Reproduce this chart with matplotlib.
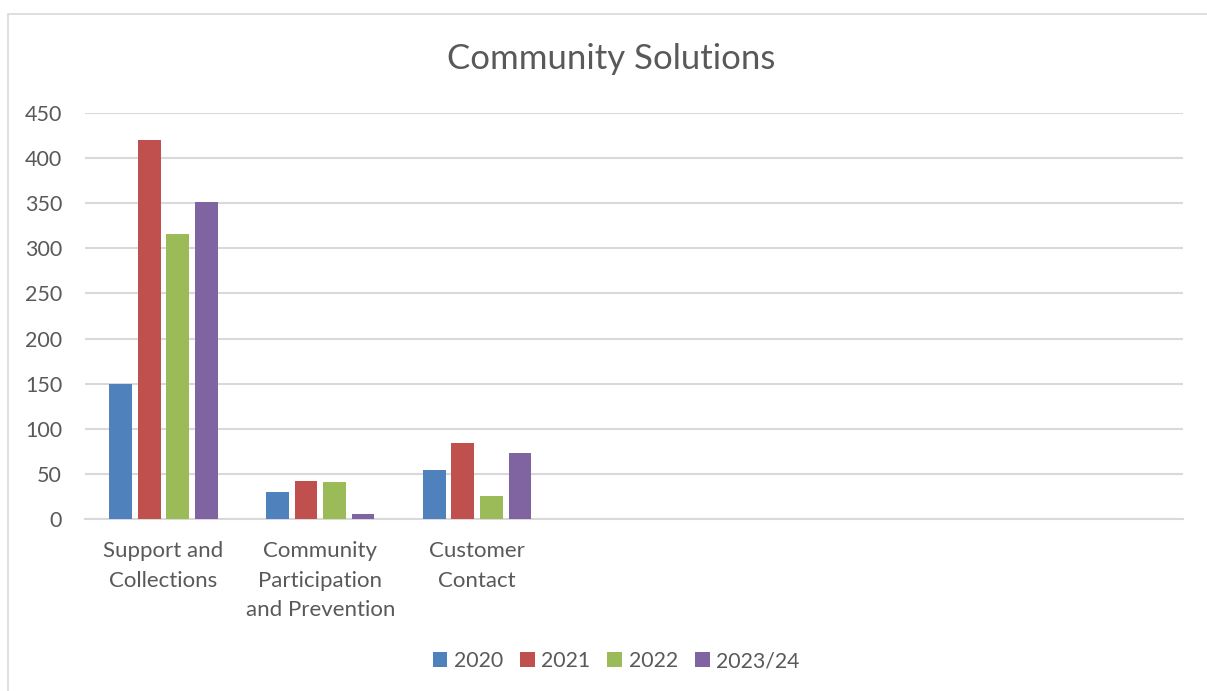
import numpy as np
import matplotlib
matplotlib.use("Agg")
import matplotlib.pyplot as plt
from matplotlib.patches import Rectangle, Patch

plt.rcParams['font.family'] = ['Lato', 'DejaVu Sans']

# data
categories = ["Support and\nCollections",
              "Community\nParticipation\nand Prevention",
              "Customer\nContact"]
series_names = ["2020", "2021", "2022", "2023/24"]
v2020 = [150, 30, 54]
v2021 = [420, 42, 84]
v2022 = [316, 41, 25]
v2023 = [351, 6, 73]
n_slots = 7  # excel axis leaves room for 7 categories

colors = ["#4F81BD", "#C0504D", "#9BBB59", "#8064A2"]
text_col = "#595959"
grid_col = "#D9D9D9"

fig = plt.figure(figsize=(12.07, 6.91), dpi=100)
fig.patch.set_facecolor("white")
# chart area border
fig.patches.append(Rectangle((8 / 1207, -0.01), 1.02, 1 - 14 / 691 + 0.01,
                             transform=fig.transFigure, fill=False,
                             edgecolor=grid_col, linewidth=1.2))

ax = fig.add_axes([85 / 1207, 1 - 519 / 691, 1098 / 1207, 406 / 691])

x = np.arange(len(categories))
step = 0.182
width = 0.145
all_vals = [v2020, v2021, v2022, v2023]
for i, vals in enumerate(all_vals):
    ax.bar(x + (i - 1.5) * step, vals, width, color=colors[i], label=series_names[i], zorder=3)

ax.set_xlim(-0.5, n_slots - 0.5)
ax.set_ylim(0, 450)
ax.set_yticks(np.arange(0, 451, 50))
ax.set_xticks(x)
ax.set_xticklabels(categories, fontsize=16, color=text_col, linespacing=1.58, va="top")
ax.tick_params(axis="x", length=0, pad=16)
ax.tick_params(axis="y", length=0, pad=16.5, labelsize=15.5, labelcolor=text_col)
ax.grid(axis="y", color=grid_col, linewidth=1.5, zorder=0)
for s in ["left", "right", "top"]:
    ax.spines[s].set_visible(False)
ax.spines["bottom"].set_color(grid_col)
ax.spines["bottom"].set_linewidth(1.5)

fig.text(611 / 1207, 1 - 59 / 691, "Community Solutions", ha="center", va="center",
         fontsize=25, color=text_col)

handles = [Patch(facecolor=c, edgecolor="none") for c in colors]
fig.legend(handles, series_names, loc="center", bbox_to_anchor=(616 / 1207, 1 - 661 / 691),
           ncol=4, frameon=False, fontsize=15.3, labelcolor=text_col,
           handlelength=0.7, handleheight=0.7, handletextpad=0.3, columnspacing=0.8)

fig.savefig("out.png", dpi=100)
